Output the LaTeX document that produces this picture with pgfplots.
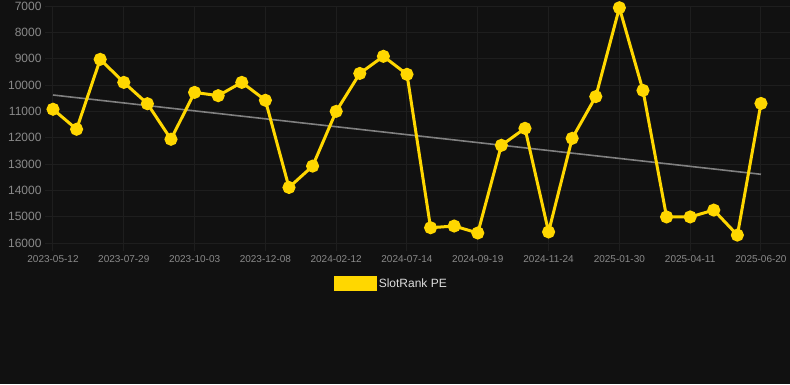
\documentclass[border=0pt]{standalone}
\usepackage{pgfplots}
\pgfplotsset{compat=1.18}
\usepackage{fontspec}
\setmainfont{Liberation Sans}
\definecolor{bg}{HTML}{111111}
\definecolor{gold}{HTML}{FFD700}
\definecolor{gridc}{HTML}{1E1E1E}
\definecolor{ticklab}{HTML}{8A8A8A}
\definecolor{trend}{HTML}{808080}
\definecolor{legtext}{HTML}{DDDDDD}
\begin{document}
\begin{tikzpicture}[x=1pt,y=1pt]
\fill[bg] (0,0) rectangle (790,384);
\begin{axis}[
  at={(53pt,141pt)}, anchor=south west,
  scale only axis, width=737pt, height=237pt,
  xmin=0, xmax=31.23, ymin=7000, ymax=16000,
  y dir=reverse,
  clip=false,
  axis line style={draw=none},
  xtick={0,3,...,30},
  xticklabels={2023-05-12,2023-07-29,2023-10-03,2023-12-08,2024-02-12,2024-07-14,2024-09-19,2024-11-24,2025-01-30,2025-04-11,2025-06-20},
  ytick={7000,8000,...,16000},
  scaled y ticks=false,
  xtick pos=bottom, ytick pos=left,
  tick align=outside,
  major tick length=8pt,
  tick style={draw=gridc, line width=1pt},
  grid=major,
  major grid style={draw=gridc, line width=1pt},
  /pgf/number format/assume math mode=true,
  /pgf/number format/set thousands separator={},
  x tick label style={font=\fontsize{10}{12}\selectfont, text=ticklab, yshift=-1pt},
  y tick label style={font=\fontsize{12}{14}\selectfont, text=ticklab, /pgf/number format/fixed, /pgf/number format/precision=0},
  legend style={draw=none, fill=none, text=legtext, font=\fontsize{12}{14}\selectfont,
    at={(0.459,-0.171)}, anchor=center},
  legend image code/.code={\fill[gold] (0pt,-6pt) rectangle (40pt,6pt);},
]
\addplot[trend, line width=1.6pt, forget plot] coordinates {(0,10380) (30,13390)};
\addplot[gold, line width=3pt, mark=*, mark size=5pt, mark options={solid, fill=gold, draw=none}] coordinates {
(0,10920) (1,11680) (2,9025) (3,9900) (4,10710) (5,12060) (6,10280) (7,10405)
(8,9900) (9,10580) (10,13890) (11,13080) (12,11000) (13,9560) (14,8910) (15,9595)
(16,15420) (17,15355) (18,15620) (19,12290) (20,11645) (21,15580) (22,12025) (23,10440)
(24,7065) (25,10205) (26,15010) (27,15010) (28,14750) (29,15700) (30,10700)
};
\addlegendentry{SlotRank PE}
\end{axis}
\pgfresetboundingbox
\useasboundingbox (0,0) rectangle (790,384);
\end{tikzpicture}
\end{document}
